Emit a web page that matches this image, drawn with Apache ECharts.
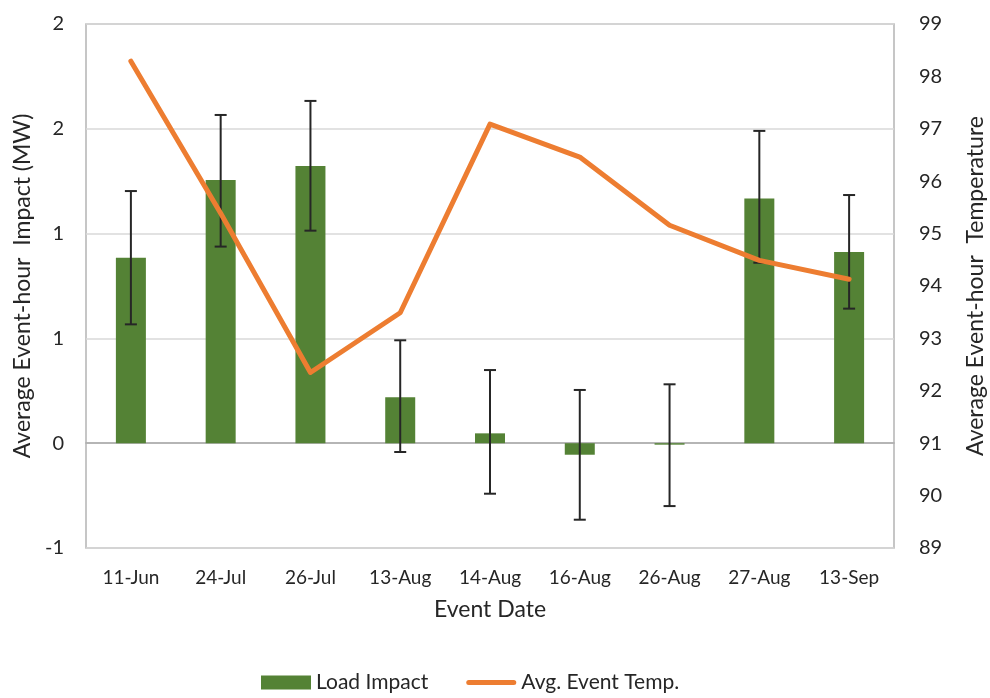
<!DOCTYPE html>
<html>
<head>
<meta charset="utf-8">
<script src="https://cdn.jsdelivr.net/npm/echarts@6/dist/echarts.min.js"></script>
<style>
  html, body { margin: 0; padding: 0; background: #ffffff; }
  #chart { width: 990px; height: 698px; }
</style>
</head>
<body>
<div id="chart"></div>
<script>
// Event dates on the category axis
const eventDates = ['11-Jun', '24-Jul', '26-Jul', '13-Aug', '14-Aug', '16-Aug', '26-Aug', '27-Aug', '13-Sep'];

// Average event-hour load impact (MW)
const loadImpact = [0.885, 1.256, 1.323, 0.219, 0.047, -0.055, -0.007, 1.168, 0.912];

// Confidence bounds drawn as error bars (MW)
const impactLow  = [0.567, 0.938, 1.014, -0.042, -0.241, -0.365, -0.300, 0.861, 0.642];
const impactHigh = [1.203, 1.566, 1.633, 0.491, 0.349, 0.254, 0.281, 1.490, 1.184];

// Average event-hour temperature (°F)
const eventTemp = [98.29, 95.39, 92.35, 93.49, 97.09, 96.46, 95.16, 94.49, 94.13];

// Left-axis ticks and the whole-number labels shown for them
const leftTicks = [-0.5, 0, 0.5, 1, 1.5, 2];
const leftTickLabels = ['-1', '0', '1', '1', '2', '2'];

const FONT = 'Lato';
const TEXT = '#262626';
const TITLE_SIZE = 23;

const chart = echarts.init(document.getElementById('chart'), null, { renderer: 'canvas' });

const errorData = eventDates.map((d, i) => [i, impactLow[i], impactHigh[i]]);

// Thin rounded bar used as the legend swatch of the temperature line
const lineIcon = 'path://M2.5,0 H47.5 A2.5,2.5 0 0 1 47.5,5 H2.5 A2.5,2.5 0 0 1 2.5,0 Z';

const option = {
  backgroundColor: '#ffffff',
  animation: false,
  textStyle: { fontFamily: FONT, color: TEXT },
  grid: {
    left: 86, right: 96, top: 24, bottom: 150,
    outerBoundsMode: 'none',
    containLabel: false,
    show: true, borderColor: '#b4b4b4', borderWidth: 1.5, backgroundColor: 'transparent'
  },
  legend: {
    left: 256, top: 667,
    itemWidth: 50, itemHeight: 14, itemGap: 38,
    symbolKeepAspect: true,
    textStyle: { fontFamily: FONT, fontSize: 21, color: TEXT },
    data: [
      { name: 'Load Impact', icon: 'rect' },
      { name: 'Avg. Event Temp.', icon: lineIcon, itemStyle: { color: '#ed7d31' } }
    ]
  },
  xAxis: {
    type: 'category',
    data: eventDates,
    name: 'Event Date',
    nameLocation: 'middle',
    nameGap: 50,
    nameTextStyle: { fontFamily: FONT, fontSize: TITLE_SIZE, color: TEXT },
    axisLine: { onZero: true, lineStyle: { color: '#a6a6a6', width: 1.5 } },
    axisTick: { show: false },
    axisLabel: { fontFamily: FONT, fontSize: 19, color: TEXT, margin: 20 }
  },
  yAxis: [
    {
      type: 'value',
      min: -0.5, max: 2, interval: 0.5,
      name: 'Average Event-hour  Impact (MW)',
      nameLocation: 'middle',
      nameGap: 51,
      nameTextStyle: { fontFamily: FONT, fontSize: TITLE_SIZE, color: TEXT },
      axisLine: { show: false },
      axisTick: { show: false },
      splitLine: { lineStyle: { color: '#d9d9d9', width: 1.5 } },
      axisLabel: {
        fontFamily: FONT, fontSize: 20, color: TEXT, margin: 22,
        formatter: v => {
          const k = leftTicks.findIndex(t => Math.abs(t - v) < 1e-9);
          return k >= 0 ? leftTickLabels[k] : '';
        }
      }
    },
    {
      type: 'value',
      min: 89, max: 99, interval: 1,
      name: 'Average Event-hour  Temperature',
      nameLocation: 'middle',
      nameGap: 70,
      nameRotate: 90,
      nameTextStyle: { fontFamily: FONT, fontSize: TITLE_SIZE, color: TEXT },
      axisLine: { show: false },
      axisTick: { show: false },
      splitLine: { show: false },
      axisLabel: { fontFamily: FONT, fontSize: 20, color: TEXT, margin: 25 }
    }
  ],
  series: [
    {
      name: 'Load Impact',
      type: 'bar',
      yAxisIndex: 0,
      data: loadImpact,
      barWidth: 30,
      itemStyle: { color: '#548235' },
      z: 2
    },
    {
      name: 'Impact Range',
      type: 'custom',
      yAxisIndex: 0,
      data: errorData,
      z: 3,
      renderItem: (params, api) => {
        const x = api.value(0);
        const lo = api.coord([x, api.value(1)]);
        const hi = api.coord([x, api.value(2)]);
        const half = 6;
        const style = { stroke: '#262626', lineWidth: 2 };
        return {
          type: 'group',
          children: [
            { type: 'line', shape: { x1: hi[0], y1: hi[1], x2: lo[0], y2: lo[1] }, style },
            { type: 'line', shape: { x1: hi[0] - half, y1: hi[1], x2: hi[0] + half, y2: hi[1] }, style },
            { type: 'line', shape: { x1: lo[0] - half, y1: lo[1], x2: lo[0] + half, y2: lo[1] }, style }
          ]
        };
      }
    },
    {
      name: 'Avg. Event Temp.',
      type: 'line',
      yAxisIndex: 1,
      data: eventTemp,
      symbol: 'none',
      lineStyle: { color: '#ed7d31', width: 5, cap: 'round', join: 'round' },
      itemStyle: { color: '#ed7d31' },
      z: 4
    }
  ]
};

chart.setOption(option);
</script>
</body>
</html>
